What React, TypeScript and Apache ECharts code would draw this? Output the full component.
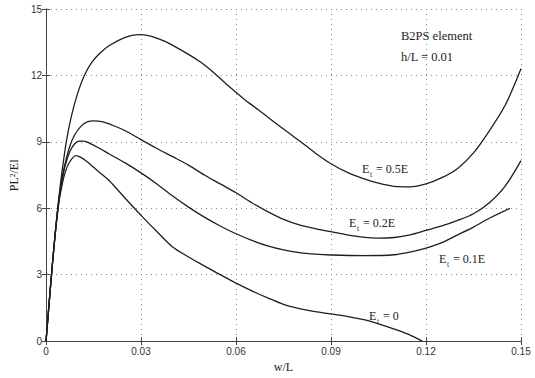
import React, { useEffect, useRef } from "react";
import * as echarts from "echarts";

const xTicks = [0, 0.03, 0.06, 0.09, 0.12, 0.15];
const yTicks = [0, 3, 6, 9, 12, 15];

const curveHalfE: [number, number][] = [
  [0, 0], [0.001, 1.75], [0.002, 3.45], [0.003, 5.0], [0.004, 6.4], [0.005, 7.6],
  [0.0064, 9.0], [0.008, 10.15], [0.01, 11.2], [0.0121, 12.0], [0.0145, 12.6],
  [0.017, 13.0], [0.02, 13.35], [0.025, 13.72], [0.029, 13.84], [0.033, 13.78],
  [0.037, 13.57], [0.041, 13.28], [0.045, 12.95], [0.049, 12.58], [0.053, 12.12],
  [0.057, 11.6], [0.0624, 10.95], [0.067, 10.45], [0.072, 9.9], [0.0765, 9.42],
  [0.08, 9.05], [0.085, 8.5], [0.09, 8.01], [0.095, 7.63], [0.1, 7.35],
  [0.105, 7.13], [0.11, 6.99], [0.115, 6.97], [0.12, 7.1], [0.125, 7.38],
  [0.13, 7.8], [0.135, 8.5], [0.14, 9.5], [0.145, 10.65], [0.15, 12.3],
];
const curveFifthE: [number, number][] = [
  [0, 0], [0.001, 1.75], [0.002, 3.45], [0.003, 5.0], [0.004, 6.3], [0.005, 7.3],
  [0.006, 8.0], [0.0075, 8.8], [0.009, 9.3], [0.011, 9.7], [0.013, 9.9],
  [0.015, 9.95], [0.018, 9.9], [0.021, 9.75], [0.025, 9.5], [0.03, 9.1],
  [0.035, 8.7], [0.04, 8.33], [0.045, 7.95], [0.05, 7.5], [0.055, 7.1],
  [0.06, 6.7], [0.065, 6.25], [0.07, 5.85], [0.075, 5.5], [0.08, 5.25],
  [0.085, 5.08], [0.09, 4.94], [0.095, 4.8], [0.1, 4.7], [0.105, 4.65],
  [0.11, 4.68], [0.115, 4.8], [0.12, 5.0], [0.125, 5.2], [0.13, 5.45],
  [0.135, 5.75], [0.14, 6.25], [0.145, 7.0], [0.15, 8.15],
];
const curveTenthE: [number, number][] = [
  [0, 0], [0.001, 1.75], [0.002, 3.45], [0.003, 5.0], [0.004, 6.3], [0.005, 7.2],
  [0.006, 7.9], [0.0075, 8.55], [0.009, 8.9], [0.0105, 9.03], [0.012, 9.03],
  [0.014, 8.92], [0.017, 8.7], [0.02, 8.45], [0.025, 8.05], [0.03, 7.6],
  [0.035, 7.1], [0.04, 6.55], [0.045, 6.05], [0.05, 5.6], [0.055, 5.2],
  [0.06, 4.85], [0.065, 4.55], [0.07, 4.3], [0.075, 4.12], [0.08, 4.0],
  [0.085, 3.93], [0.09, 3.89], [0.1, 3.86], [0.11, 3.9], [0.116, 4.05],
  [0.12, 4.2], [0.125, 4.45], [0.13, 4.8], [0.135, 5.15], [0.14, 5.55],
  [0.1465, 6.0],
];
const curveZero: [number, number][] = [
  [0, 0], [0.001, 1.75], [0.002, 3.45], [0.003, 4.95], [0.004, 6.2], [0.005, 7.0],
  [0.006, 7.6], [0.0075, 8.1], [0.0095, 8.38], [0.011, 8.3], [0.013, 8.1],
  [0.015, 7.85], [0.0175, 7.55], [0.02, 7.24], [0.025, 6.45], [0.03, 5.68],
  [0.035, 4.95], [0.04, 4.25], [0.045, 3.8], [0.05, 3.4], [0.055, 3.0],
  [0.06, 2.62], [0.065, 2.27], [0.07, 1.95], [0.075, 1.66], [0.08, 1.47],
  [0.085, 1.33], [0.09, 1.23], [0.095, 1.12], [0.1, 0.98], [0.105, 0.78],
  [0.11, 0.54], [0.115, 0.27], [0.1188, 0.0],
];

const curveLabels = ["0.5E", "0.2E", "0.1E", "0"];

const serif = "'Liberation Serif', 'DejaVu Serif', serif";
const sans = "'Liberation Sans', Arial, sans-serif";

function etLabel(left: number, top: number, value: string) {
  return {
    type: "group",
    left,
    top,
    children: [
      { type: "text", x: 0, y: 0, style: { text: "E", font: `12px ${serif}`, fill: "#222" } },
      { type: "text", x: 8, y: 7, style: { text: "t", font: `7.5px ${serif}`, fill: "#222" } },
      { type: "text", x: 14, y: 0, style: { text: "= " + value, font: `12px ${serif}`, fill: "#222" } },
    ],
  };
}

export default function App() {
  const ref = useRef<HTMLDivElement>(null);
  useEffect(() => {
    if (!ref.current) return;
    const chart = echarts.init(ref.current, null, { renderer: "svg" });
    const lineStyle = { color: "#1e1e1e", width: 1.3 };
    const mk = (data: [number, number][]) => ({
      type: "line",
      data,
      showSymbol: false,
      smooth: 0.3,
      lineStyle,
      xAxisIndex: 0,
      yAxisIndex: 0,
    });
    const axisLineStyle = { lineStyle: { color: "#444", width: 1 } };
    const splitLine = { show: true, lineStyle: { color: "#888", type: [1, 4] as any, width: 1 } };
    chart.setOption({
      animation: false,
      backgroundColor: "#fff",
      grid: { left: 43, right: 14, top: 9, bottom: 32 },
      xAxis: [
        {
          type: "value", min: 0, max: 0.15, interval: 0.03, position: "bottom",
          axisLine: axisLineStyle,
          axisTick: { show: true, inside: true, length: 4, lineStyle: { color: "#444" } },
          axisLabel: {
            color: "#333", fontFamily: sans, fontSize: 10, margin: 5,
            formatter: (v: number) => {
              const t = xTicks.find((k) => Math.abs(k - v) < 1e-9);
              return t === undefined ? "" : String(t);
            },
          },
          splitLine,
          name: "w/L", nameLocation: "middle", nameGap: 19,
          nameTextStyle: { fontFamily: serif, fontSize: 12, color: "#222" },
        },
        {
          type: "value", min: 0, max: 0.15, interval: 0.03, position: "top",
          axisLine: axisLineStyle,
          axisTick: { show: true, inside: true, length: 4, lineStyle: { color: "#444" } },
          axisLabel: { show: false }, splitLine: { show: false },
        },
      ],
      yAxis: [
        {
          type: "value", min: 0, max: 15, interval: 3, position: "left",
          axisLine: { show: true, ...axisLineStyle },
          axisTick: { show: true, inside: true, length: 4, lineStyle: { color: "#444" } },
          axisLabel: {
            color: "#333", fontFamily: sans, fontSize: 10, margin: 4,
            formatter: (v: number) => {
              const t = yTicks.find((k) => Math.abs(k - v) < 1e-9);
              return t === undefined ? "" : String(t);
            },
          },
          splitLine,
          name: "PL²/EI", nameLocation: "middle", nameGap: 26,
          nameTextStyle: { fontFamily: serif, fontSize: 12, color: "#222" },
        },
        {
          type: "value", min: 0, max: 15, interval: 3, position: "right",
          axisLine: { show: true, ...axisLineStyle },
          axisTick: { show: true, inside: true, length: 4, lineStyle: { color: "#444" } },
          axisLabel: { show: false }, splitLine: { show: false },
        },
      ],
      series: [mk(curveHalfE), mk(curveFifthE), mk(curveTenthE), mk(curveZero)],
      graphic: [
        { type: "text", left: 401, top: 29, style: { text: "B2PS element", font: `12.5px ${serif}`, fill: "#222" } },
        { type: "text", left: 401, top: 50, style: { text: "h/L = 0.01", font: `12.5px ${serif}`, fill: "#222" } },
        etLabel(362, 163, curveLabels[0]),
        etLabel(349, 217, curveLabels[1]),
        etLabel(439, 253, curveLabels[2]),
        etLabel(369, 310, curveLabels[3]),
      ],
    });
    return () => chart.dispose();
  }, []);
  return (
    <div
      ref={ref}
      style={{ position: "fixed", left: 0, top: 0, width: 535, height: 378, background: "#fff" }}
    />
  );
}
